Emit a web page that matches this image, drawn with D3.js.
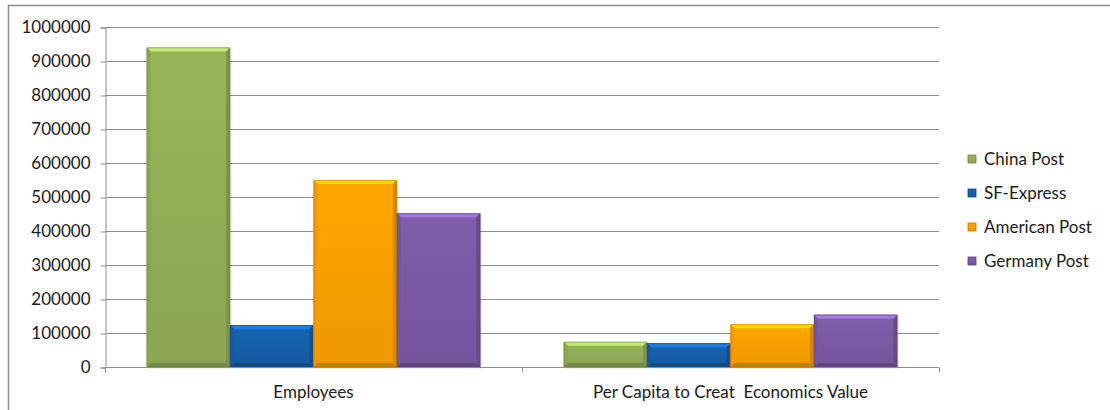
<!DOCTYPE html>
<html>
<head>
<meta charset="utf-8">
<script src="https://cdn.jsdelivr.net/npm/d3@7"></script>
<style>
  body { margin: 0; background: #fff; }
  text { font-family: Lato, "Open Sans", sans-serif; fill: #1a1a1a; }
</style>
</head>
<body>
<div id="chart"></div>
<script>
// data
var categories = ["Employees", "Per Capita to Creat  Economics Value"];
var series = ["China Post", "SF-Express", "American Post", "Germany Post"];
var chinaPost = [940000, 74000];
var sfExpress = [123000, 70000];
var americanPost = [550000, 126000];
var germanyPost = [452000, 154000];
var yTicks = [0, 100000, 200000, 300000, 400000, 500000, 600000, 700000, 800000, 900000, 1000000];

var values = [chinaPost, sfExpress, americanPost, germanyPost];
var colors = ["#94b057", "#1660ac", "#ffa200", "#7c5ba6"];

var W = 1110, H = 410;
var margin = {top: 27, left: 105, right: 171, bottom: 43};

var svg = d3.select("#chart").append("svg")
    .attr("width", W)
    .attr("height", H);

var defs = svg.append("defs");
colors.forEach(function(c, i) {
  var g = defs.append("linearGradient")
      .attr("id", "grad" + i)
      .attr("x1", 0).attr("y1", 0).attr("x2", 0).attr("y2", 1);
  g.append("stop").attr("offset", "0%").attr("stop-color", d3.color(c).brighter(0.08));
  g.append("stop").attr("offset", "100%").attr("stop-color", d3.color(c).darker(0.18));
});

// outer chart frame
svg.append("rect")
    .attr("x", 8.5).attr("y", 5.5)
    .attr("width", 1110).attr("height", 420)
    .attr("fill", "none")
    .attr("stroke", "#8c8c8c")
    .attr("stroke-width", 1.5);

var x0 = d3.scaleBand()
    .domain(categories)
    .range([margin.left, W - margin.right]);

var x1 = d3.scaleBand()
    .domain(series)
    .range([0, x0.bandwidth()])
    .paddingOuter(0.5);

var y = d3.scaleLinear()
    .domain([0, 1000000])
    .range([H - margin.bottom, margin.top]);

// gridlines
svg.append("g")
  .selectAll("line")
  .data(yTicks.slice(1))
  .enter().append("line")
    .attr("x1", margin.left).attr("x2", W - margin.right)
    .attr("y1", function(d) { return Math.round(y(d)) + 0.5; })
    .attr("y2", function(d) { return Math.round(y(d)) + 0.5; })
    .attr("stroke", "#8f8f8f")
    .attr("stroke-width", 1);

// y axis
var yAxis = svg.append("g")
    .attr("transform", "translate(" + (margin.left + 0.5) + ",0.5)")
    .call(d3.axisLeft(y).tickValues(yTicks).tickFormat(d3.format("d")).tickSize(5).tickPadding(10));
yAxis.select(".domain").attr("stroke", "#8f8f8f");
yAxis.selectAll(".tick line").attr("stroke", "#8f8f8f");
yAxis.selectAll(".tick text")
    .style("font-family", "Lato, sans-serif")
    .style("font-size", "17px")
    .attr("fill", "#1a1a1a");

// bars
var bars = svg.append("g");
categories.forEach(function(cat, ci) {
  series.forEach(function(s, si) {
    var v = values[si][ci];
    var bx = x0(cat) + x1(s), bw = x1.bandwidth();
    var by = y(v), bh = y(0) - y(v);
    var c = colors[si];
    var b = 4;
    var g = bars.append("g");
    g.append("rect")
        .attr("x", bx + 1.5).attr("y", by + 1.5)
        .attr("width", bw).attr("height", bh)
        .attr("fill", "#000").attr("opacity", 0.1);
    g.append("rect")
        .attr("x", bx).attr("y", by)
        .attr("width", bw).attr("height", bh)
        .attr("fill", "url(#grad" + si + ")");
    // top bevel
    g.append("path")
        .attr("d", "M" + bx + "," + by + "H" + (bx + bw) + "L" + (bx + bw - b) + "," + (by + b) + "H" + (bx + b) + "Z")
        .attr("fill", d3.color(c).brighter(0.8));
    // left bevel
    g.append("path")
        .attr("d", "M" + bx + "," + by + "L" + (bx + b) + "," + (by + b) + "V" + (by + bh - b) + "L" + bx + "," + (by + bh) + "Z")
        .attr("fill", d3.color(c).darker(0.15));
    // right bevel
    g.append("path")
        .attr("d", "M" + (bx + bw) + "," + by + "L" + (bx + bw - b) + "," + (by + b) + "V" + (by + bh - b) + "L" + (bx + bw) + "," + (by + bh) + "Z")
        .attr("fill", d3.color(c).darker(0.5));
    // bottom bevel
    g.append("path")
        .attr("d", "M" + bx + "," + (by + bh) + "H" + (bx + bw) + "L" + (bx + bw - b) + "," + (by + bh - b) + "H" + (bx + b) + "Z")
        .attr("fill", d3.color(c).darker(0.7));
    g.append("rect")
        .attr("x", bx + 0.5).attr("y", by + 0.5)
        .attr("width", bw - 1).attr("height", bh - 1)
        .attr("fill", "none")
        .attr("stroke", d3.color(c).darker(0.9))
        .attr("stroke-opacity", 0.5);
  });
});

// x axis
var xAxisY = Math.round(y(0)) + 0.5;
svg.append("line")
    .attr("x1", margin.left).attr("x2", W - margin.right)
    .attr("y1", xAxisY).attr("y2", xAxisY)
    .attr("stroke", "#8f8f8f");
var dividers = [x0.range()[0]].concat(categories.map(function(c) { return x0(c) + x0.bandwidth(); }));
svg.append("g")
  .selectAll("line")
  .data(dividers)
  .enter().append("line")
    .attr("x1", function(d) { return Math.round(d) + 0.5; })
    .attr("x2", function(d) { return Math.round(d) + 0.5; })
    .attr("y1", xAxisY).attr("y2", xAxisY + 5)
    .attr("stroke", "#8f8f8f");

svg.append("g")
  .selectAll("text")
  .data(categories)
  .enter().append("text")
    .attr("x", function(d) { return x0(d) + x0.bandwidth() / 2; })
    .attr("y", 398)
    .attr("text-anchor", "middle")
    .style("font-size", "17px")
    .style("white-space", "pre")
    .text(function(d) { return d; });

// legend
var legend = svg.append("g")
    .attr("transform", "translate(968,159)");
var item = legend.selectAll("g")
    .data(series)
    .enter().append("g")
    .attr("transform", function(d, i) { return "translate(0," + (i * 34) + ")"; });
item.append("rect")
    .attr("x", 0).attr("y", -4)
    .attr("width", 8).attr("height", 8)
    .attr("fill", function(d, i) { return "url(#grad" + i + ")"; })
    .attr("stroke", function(d, i) { return d3.color(colors[i]).darker(0.8); })
    .attr("stroke-width", 0.8);
item.append("text")
    .attr("x", 16).attr("y", 0)
    .attr("dy", "0.35em")
    .style("font-size", "17px")
    .text(function(d) { return d; });
</script>
</body>
</html>
